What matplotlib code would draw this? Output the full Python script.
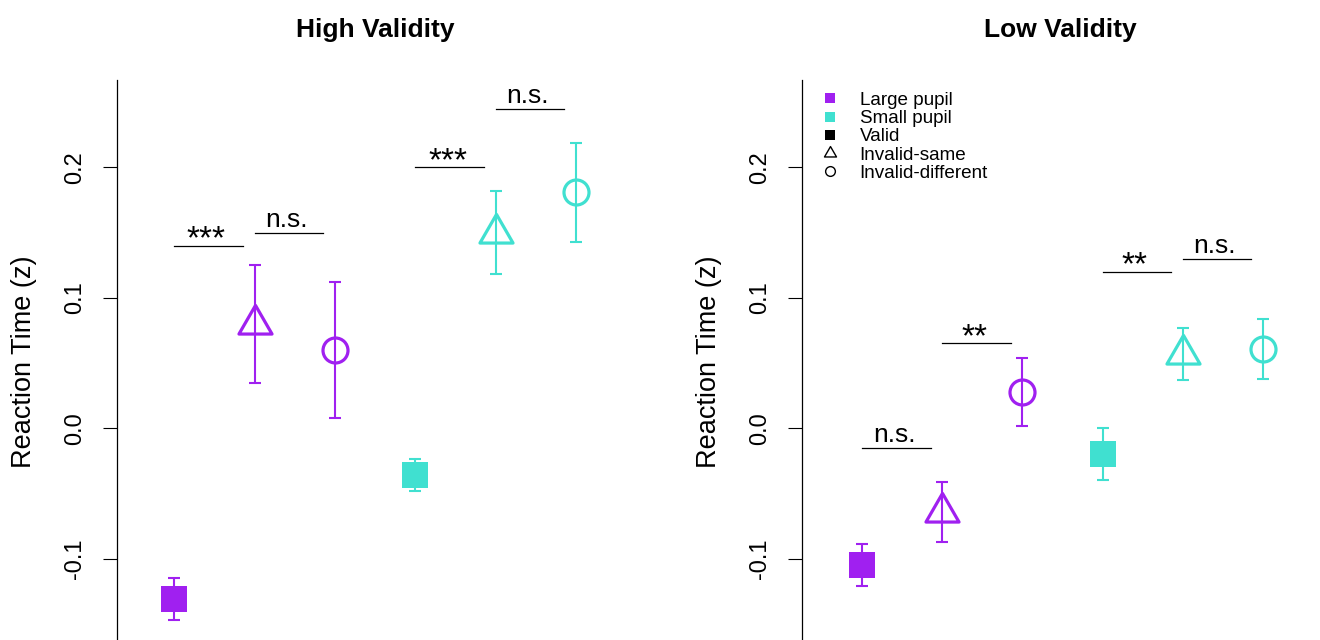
import matplotlib
matplotlib.use("Agg")
import matplotlib.pyplot as plt
from matplotlib.lines import Line2D
from matplotlib.path import Path
import numpy as np

plt.rcParams['font.family'] = ['Liberation Sans', 'DejaVu Sans']

# condition order along the x axis
conditions = ["Large valid", "Large invalid-same", "Large invalid-different",
              "Small valid", "Small invalid-same", "Small invalid-different"]
positions = [1, 2, 3, 4, 5, 6]

# mean reaction times (z) and standard errors
high_means = [-0.131, 0.080, 0.060, -0.036, 0.150, 0.181]
high_se = [0.016, 0.045, 0.052, 0.012, 0.032, 0.038]
low_means = [-0.105, -0.064, 0.028, -0.020, 0.057, 0.061]
low_se = [0.016, 0.023, 0.026, 0.020, 0.020, 0.023]

# significance brackets: (start position, height, label)
high_sig_x = [1, 2, 4, 5]
high_sig_y = [0.140, 0.150, 0.200, 0.245]
high_sig_lab = ["***", "n.s.", "***", "n.s."]
low_sig_x = [1, 2, 4, 5]
low_sig_y = [-0.015, 0.065, 0.120, 0.130]
low_sig_lab = ["n.s.", "**", "**", "n.s."]

yticks = [-0.1, 0.0, 0.1, 0.2]
ytick_labels = ["-0.1", "0.0", "0.1", "0.2"]

PURPLE = "#A020F0"
TURQ = "#40E0D0"
colors = [PURPLE] * 3 + [TURQ] * 3

# equilateral triangle centred on its centroid
tri = Path([(0, 1), (-0.866, -0.5), (0.866, -0.5), (0, 1)],
           [Path.MOVETO, Path.LINETO, Path.LINETO, Path.CLOSEPOLY])
shapes = ["s", tri, "o"] * 2

W, H = 1320, 640
fig = plt.figure(figsize=(W / 100, H / 100), dpi=100)

ax_w = 517 / W
ax_h = 564 / H
ax_b = -4 / H
axL = fig.add_axes([117 / W, ax_b, ax_w, ax_h])
axR = fig.add_axes([802 / W, ax_b, ax_w, ax_h])


def panel(ax, means, se, sx, sy, slab, title, xlim):
    for x, m, e, c, mk in zip(positions, means, se, colors, shapes):
        ax.errorbar(x, m, yerr=e, fmt="none", ecolor=c, elinewidth=1.5,
                    capsize=4, capthick=1.5, zorder=2)
        if mk == "s":
            ax.plot(x, m, marker="s", ms=18.5, mfc=c, mec=c, mew=0,
                    linestyle="none", zorder=3)
        elif mk == "o":
            ax.plot(x, m, marker="o", ms=18, mfc="none", mec=c, mew=2.3,
                    linestyle="none", zorder=3)
        else:
            ax.plot(x, m, marker=mk, ms=27.5, mfc="none", mec=c, mew=2.3,
                    linestyle="none", zorder=3)
    for x0, y0, lab in zip(sx, sy, slab):
        ax.plot([x0, x0 + 0.855], [y0, y0], color="black", lw=0.9, zorder=2)
        if lab.startswith("*"):
            ax.annotate(lab, xy=(x0 + 0.40, y0), xytext=(0, -2),
                        textcoords="offset points", ha="center",
                        va="baseline", fontsize=24)
        else:
            ax.annotate(lab, xy=(x0 + 0.40, y0), xytext=(0, 4),
                        textcoords="offset points", ha="center",
                        va="baseline", fontsize=19)
    ax.set_xlim(*xlim)
    ax.set_ylim(-0.1655, 0.267)
    ax.set_yticks(yticks)
    ax.set_yticklabels(ytick_labels, rotation=90, va="center", fontsize=17)
    ax.tick_params(axis="y", length=10, width=0.8, pad=12)
    ax.set_xticks([])
    for s in ["top", "right", "bottom"]:
        ax.spines[s].set_visible(False)
    ax.spines["left"].set_linewidth(0.9)
    ax.set_ylabel("Reaction Time (z)", fontsize=19.5)
    ax.yaxis.set_label_coords(-0.155, 0.5)
    ax.set_title(title, fontsize=19, fontweight="bold", pad=31)
    ax.patch.set_alpha(0)


panel(axL, high_means, high_se, high_sig_x, high_sig_y, high_sig_lab,
      "High Validity", (0.289, 6.72))
panel(axR, low_means, low_se, low_sig_x, low_sig_y, low_sig_lab,
      "Low Validity", (0.252, 6.70))

legend_labels = ["Large pupil", "Small pupil", "Valid", "Invalid-same",
                 "Invalid-different"]
handles = [
    Line2D([], [], marker="s", ms=6.5, mfc=PURPLE, mec=PURPLE, mew=0, ls="none"),
    Line2D([], [], marker="s", ms=6.5, mfc=TURQ, mec=TURQ, mew=0, ls="none"),
    Line2D([], [], marker="s", ms=6.5, mfc="black", mec="black", mew=0, ls="none"),
    Line2D([], [], marker=tri, ms=10, mfc="none", mec="black", mew=1, ls="none"),
    Line2D([], [], marker="o", ms=7, mfc="none", mec="black", mew=1, ls="none"),
]
axR.legend(handles, legend_labels, loc="upper left",
           bbox_to_anchor=(0.024, 0.989), frameon=False, fontsize=13.6,
           handlelength=1.0, handletextpad=1.1, labelspacing=0.05,
           borderaxespad=0.3, borderpad=0.0)

fig.savefig("out.png", dpi=100)
